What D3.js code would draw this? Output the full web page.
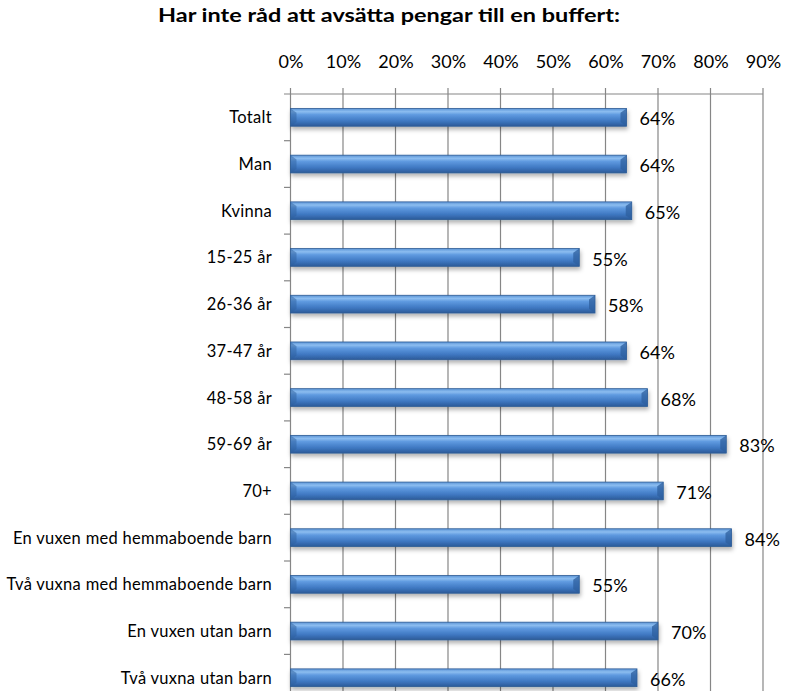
<!DOCTYPE html>
<html><head><meta charset="utf-8">
<script src="https://cdn.jsdelivr.net/npm/d3@7"></script>
<style>body{margin:0;background:#fff}svg{display:block}text{font-family:Lato,"Open Sans",sans-serif}</style>
</head><body><svg id="c" width="785" height="691"></svg>
<script>
const title = "Har inte råd att avsätta pengar till en buffert:";
const categories = ["Totalt","Man","Kvinna","15-25 år","26-36 år","37-47 år","48-58 år","59-69 år","70+","En vuxen med hemmaboende barn","Två vuxna med hemmaboende barn","En vuxen utan barn","Två vuxna utan barn"];
const values = [64,64,65,55,58,64,68,83,71,84,55,70,66];
const tickValues = [0,10,20,30,40,50,60,70,80,90];

(function(){
const svg = d3.select("#c");
const plotLeft = 290.5, plotRight = 763, plotTop = 94, bandH = 46.7;
const x = d3.scaleLinear().domain([0,90]).range([plotLeft,plotRight]);
const y = d3.scaleBand().domain(categories).range([plotTop, plotTop + bandH*categories.length]).paddingInner(0.62).paddingOuter(0.31);

const defs = svg.append("defs");
const g = defs.append("linearGradient").attr("id","barg").attr("x1",0).attr("y1",0).attr("x2",0).attr("y2",1);
[[0,"#5b94d6"],[0.18,"#8cbdf0"],[0.35,"#5f9ae0"],[0.7,"#3f78c2"],[1,"#2b5a98"]].forEach(([o,c])=>g.append("stop").attr("offset",o).attr("stop-color",c));
const f = defs.append("filter").attr("id","sh").attr("x","-5%").attr("y","-30%").attr("width","110%").attr("height","190%");
f.append("feDropShadow").attr("dx",1).attr("dy",3).attr("stdDeviation",2).attr("flood-color","#000").attr("flood-opacity",0.3);

svg.append("text").attr("x",158).attr("y",22)
  .attr("font-size",19).attr("font-weight","bold").attr("fill","#000")
  .attr("font-family","'Open Sans',Lato,sans-serif")
  .attr("textLength",462).attr("lengthAdjust","spacingAndGlyphs").text(title);

// gridlines
svg.append("g").selectAll("line").data(tickValues).join("line")
  .attr("x1",d=>x(d)).attr("x2",d=>x(d)).attr("y1",88).attr("y2",691)
  .attr("stroke","#868686").attr("stroke-width",1.2);
// top axis line
svg.append("line").attr("x1",284).attr("x2",plotRight).attr("y1",plotTop).attr("y2",plotTop).attr("stroke","#868686").attr("stroke-width",1.2);
// top axis labels
const ax = d3.axisTop(x).tickValues(tickValues).tickFormat(d=>d+"%").tickSize(0).tickPadding(0);
const axg = svg.append("g").attr("transform","translate(0,68)").call(ax);
axg.select(".domain").remove();
axg.selectAll("text").attr("font-size",18).attr("fill","#000").attr("font-family","Lato,sans-serif");

// left category ticks
const bounds = categories.map((c,i)=>plotTop + bandH*(i+1));
svg.append("g").selectAll("line").data(bounds).join("line")
  .attr("x1",284).attr("x2",plotLeft).attr("y1",d=>d).attr("y2",d=>d).attr("stroke","#868686").attr("stroke-width",1.2);

// category labels
const yAx = d3.axisLeft(y).tickSize(0).tickPadding(0);
const yg = svg.append("g").attr("transform","translate(272,0)").call(yAx);
yg.select(".domain").remove();
yg.selectAll("text").attr("font-size",16.5).attr("letter-spacing","0.3px").attr("fill","#000").attr("font-family","Lato,sans-serif").attr("dy","0.36em");

// bars
const bars = svg.append("g").selectAll("g").data(values).join("g");
bars.append("rect").attr("x",x(0)).attr("y",(d,i)=>y(categories[i]))
  .attr("width",d=>x(d)-x(0)).attr("height",y.bandwidth())
  .attr("fill","url(#barg)").attr("stroke","#2f5c94").attr("stroke-width",0.8).attr("filter","url(#sh)");
bars.append("path").attr("d",(d,i)=>{
  const y0=y(categories[i]), h=y.bandwidth(), x1=x(d), b=6;
  return `M${x1},${y0}L${x1-b},${y0+b*0.7}L${x1-b},${y0+h-b*0.7}L${x1},${y0+h}Z`;
}).attr("fill","#2e5f9e").attr("opacity",0.75);
bars.append("path").attr("d",(d,i)=>{
  const y0=y(categories[i]), h=y.bandwidth(), x0=x(0), b=6;
  return `M${x0},${y0}L${x0+b},${y0+b*0.7}L${x0+b},${y0+h-b*0.7}L${x0},${y0+h}Z`;
}).attr("fill","#2e5f9e").attr("opacity",0.5);
bars.append("text").attr("x",d=>x(d)+13).attr("y",(d,i)=>y(categories[i])+y.bandwidth()/2)
  .attr("dy","0.45em").attr("font-size",18).attr("fill","#000").text(d=>d+"%");
})();
</script></body></html>
